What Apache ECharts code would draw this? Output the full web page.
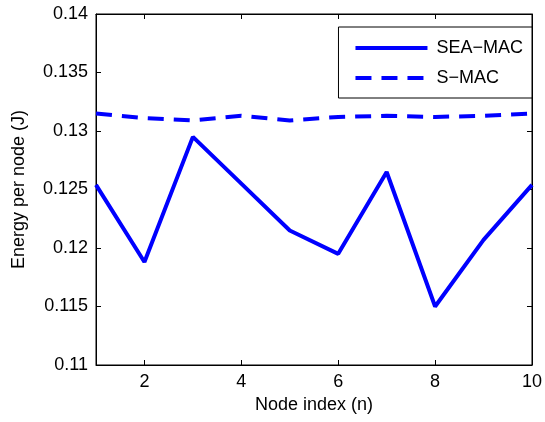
<!DOCTYPE html>
<html lang="en">
<head>
    <meta charset="UTF-8">
    <title>Energy per node</title>
    <script src="https://cdn.jsdelivr.net/npm/echarts@6/dist/echarts.min.js"></script>
</head>
<body style="margin:0;background:#fff;">
<div id="main" style="width:545px;height:422px;"></div>
<script type="text/javascript">
    var nodeIndex = [1, 2, 3, 4, 5, 6, 7, 8, 9, 10];
    var seaMac = [0.1254, 0.1188, 0.1295, 0.1255, 0.1215, 0.1195, 0.1265, 0.1150, 0.1207, 0.1254];
    var sMac = [0.1315, 0.1311, 0.1309, 0.1313, 0.1309, 0.1312, 0.1313, 0.1312, 0.1313, 0.1315];

    var myChart = echarts.init(document.getElementById('main'));
    var font = 'Liberation Sans, Arial, sans-serif';
    var fs = 18;
    var evenOnly = function (index) { return index % 2 === 1; };

    var xBase = {
        type: 'category',
        data: nodeIndex,
        boundaryGap: false,
        axisLine: {show: true, lineStyle: {color: '#000', width: 1}},
        axisTick: {show: true, inside: true, length: 5, interval: evenOnly, lineStyle: {color: '#000'}},
        splitLine: {show: false}
    };
    var yBase = {
        type: 'value',
        min: 0.11,
        max: 0.14,
        interval: 0.005,
        axisLine: {show: true, lineStyle: {color: '#000', width: 1}},
        axisTick: {show: true, inside: true, length: 5, lineStyle: {color: '#000'}},
        splitLine: {show: false}
    };

    var option = {
        backgroundColor: '#fff',
        animation: false,
        grid: {left: 96, right: 12, top: 14, bottom: 57, show: true, borderColor: '#000', borderWidth: 1},
        legend: {
            orient: 'vertical',
            right: 13,
            top: 27,
            padding: [12, 9, 11, 15],
            itemWidth: 72,
            itemHeight: 14,
            itemGap: 12,
            borderColor: '#000',
            borderWidth: 1,
            backgroundColor: '#fff',
            itemStyle: {opacity: 0},
            lineStyle: {width: 4},
            textStyle: {fontFamily: font, fontSize: fs, color: '#000', padding: [0, 0, 0, 4]},
            data: ['SEA\u2212MAC', 'S\u2212MAC']
        },
        xAxis: [
            Object.assign({}, xBase, {
                position: 'bottom',
                name: 'Node index (n)',
                nameLocation: 'middle',
                nameGap: 21,
                nameTextStyle: {fontFamily: font, fontSize: fs, color: '#000'},
                axisLabel: {interval: evenOnly, fontFamily: font, fontSize: fs, color: '#000', margin: 8}
            }),
            Object.assign({}, xBase, {position: 'top', axisLabel: {show: false}})
        ],
        yAxis: [
            Object.assign({}, yBase, {
                position: 'left',
                name: 'Energy per node (J)',
                nameLocation: 'middle',
                nameGap: 68,
                nameTextStyle: {fontFamily: font, fontSize: fs, color: '#000'},
                axisLabel: {fontFamily: font, fontSize: fs, color: '#000', margin: 8}
            }),
            Object.assign({}, yBase, {position: 'right', axisLabel: {show: false}})
        ],
        series: [
            {
                name: 'SEA\u2212MAC',
                type: 'line',
                data: seaMac,
                symbol: 'none',
                color: '#0000ff',
                lineStyle: {color: '#0000ff', width: 4}
            },
            {
                name: 'S\u2212MAC',
                type: 'line',
                data: sMac,
                symbol: 'none',
                color: '#0000ff',
                lineStyle: {color: '#0000ff', width: 4, type: [16, 10]}
            }
        ]
    };
    myChart.setOption(option);
</script>
</body>
</html>
